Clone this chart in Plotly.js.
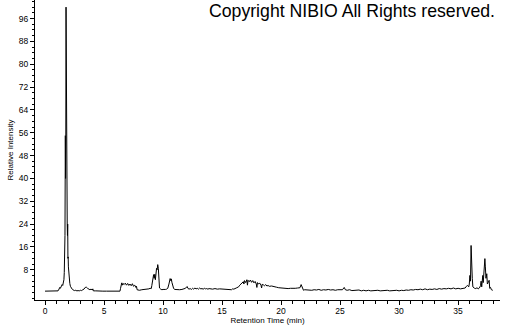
<!DOCTYPE html>
<html><head><meta charset="utf-8">
<script src="https://cdn.plot.ly/plotly-3.0.1.min.js"></script>
<style>html,body{margin:0;padding:0;background:#fff}#c{width:505px;height:325px}</style>
</head><body><div id="c"></div>
<script>
const retentionTime = [
 0,0.2,0.4,0.6,0.8,1.0,1.1,1.15,1.2,1.25,1.3,1.35,1.4,1.45,1.5,1.55,1.6,1.63,1.66,1.69,1.72,1.74,1.76,1.78,1.80,1.82,1.84,1.86,1.88,1.90,1.92,1.94,1.96,1.98,2.0,2.05,2.1,2.15,2.2,2.25,2.3,2.35,2.4,2.5,2.6,2.7,2.8,2.9,3.0,3.1,3.2,3.3,3.4,3.5,3.6,3.7,3.8,3.9,4.0,4.05,4.1,4.3,4.5,4.7,4.9,5.2,5.5,5.8,6.1,6.35,
 6.4,6.45,6.5,6.55,6.6,6.7,6.8,6.9,7.0,7.1,7.2,7.3,7.4,7.5,7.6,7.7,7.75,7.8,7.9,8.0,8.2,8.4,8.6,8.8,8.9,9.0,9.05,9.1,9.15,9.2,9.25,9.3,9.35,9.4,9.45,9.5,9.55,9.6,9.65,9.7,9.8,9.9,10.0,10.1,10.2,10.3,10.4,10.5,10.55,10.6,10.65,10.7,10.75,10.8,10.9,11.0,11.2,11.4,11.6,11.8,11.9,12.0,12.05,12.1,12.2,12.3,12.4,12.5,12.6,12.7,12.8,12.9,13.0,13.1,13.2,13.3,13.4,13.5,13.6,13.7,13.8,13.9,14.0,14.2,14.4,14.6,14.8,15.0,15.2,15.4,15.6,15.8,15.9,16.0,16.2,16.4,16.5,16.6,16.7,16.8,16.85,16.9,17.0,17.1,17.15,17.2,17.3,17.4,17.5,17.6,17.7,17.8,17.9,17.95,18.0,18.1,18.2,18.3,18.35,18.4,18.5,18.6,18.7,18.8,18.9,19.0,19.2,19.4,19.6,19.8,20.0,20.2,20.4,20.6,20.8,21.0,21.2,21.4,21.6,21.7,21.75,21.8,21.9,22.0,22.2,22.4,22.6,22.8,23.0,23.2,23.4,23.6,23.8,24.0,24.2,24.4,24.6,24.8,25.0,25.2,25.35,25.45,25.6,25.8,26.0,26.2,26.4,26.6,26.8,27.0,27.2,27.4,27.6,27.8,28.0,28.2,28.4,28.6,28.8,29.0,29.2,29.4,29.6,29.8,30.0,30.2,30.4,30.6,30.8,31.0,31.2,31.4,31.6,31.8,32.0,32.2,32.4,32.6,32.8,33.0,33.2,33.4,33.6,33.8,34.0,34.2,34.4,34.6,34.8,35.0,35.2,35.4,35.6,35.7,35.8,35.9,35.95,36.0,36.05,36.1,36.13,36.16,36.2,36.25,36.3,36.4,36.5,36.6,36.7,36.8,36.9,36.95,37.0,37.05,37.09,37.13,37.2,37.27,37.31,37.36,37.43,37.48,37.55,37.63,37.68,37.75,37.82,37.94
];
const relativeIntensity = [
 0.5,0.5,0.5,0.5,0.5,0.5,0.6,0.9,1.4,1.8,1.5,2.2,2.0,2.8,2.5,3.6,4.5,7,12.5,20,55,40,55,100,62,78,77,50,24,20,24,12,12.5,9,7,5,3.2,2.2,1.6,1.4,1.2,1.0,0.9,0.7,0.8,0.6,0.7,0.6,0.8,0.7,1.0,1.2,1.8,1.9,1.5,1.2,1.0,1.2,0.9,1.3,0.6,0.6,0.5,0.6,0.5,0.5,0.5,0.5,0.5,0.5,
 1.5,3.0,3.4,2.6,3.2,2.8,3.3,2.6,3.2,2.5,3.0,2.4,3.1,2.2,2.6,1.8,2.2,1.0,0.9,0.8,1.0,1.1,1.0,1.3,1.5,1.4,2.5,4.5,5.5,6.3,5.0,6.4,4.5,7.5,8.5,8.0,9.8,8.5,3.0,1.6,1.2,1.0,1.1,1.0,1.1,1.2,1.5,3.0,4.0,4.9,4.2,4.8,3.6,2.4,1.4,1.1,1.0,1.0,1.1,1.2,1.5,2.0,2.1,1.5,1.2,1.4,1.1,1.5,1.2,1.6,1.3,1.5,1.2,1.6,1.3,1.4,1.2,1.5,1.3,1.4,1.2,1.4,1.3,1.2,1.4,1.2,1.3,1.2,1.1,1.0,1.1,1.0,1.3,1.2,1.6,2.0,2.6,3.0,3.4,3.8,3.0,4.2,3.5,4.5,2.6,4.3,3.8,4.4,3.6,4.2,3.4,3.9,3.0,1.8,3.5,3.0,3.3,2.6,1.6,2.9,2.7,2.4,2.8,2.3,2.5,2.2,2.3,2.0,1.9,1.7,1.6,1.5,1.6,1.4,1.5,1.4,1.5,1.6,1.7,2.8,2.2,1.2,0.8,1.0,0.9,1.0,0.8,1.0,0.9,1.1,0.8,1.0,0.9,1.1,0.9,1.0,0.8,1.0,0.9,1.0,1.8,1.0,0.8,1.0,0.7,0.8,0.7,0.9,0.6,0.8,0.6,0.8,0.6,0.7,0.6,0.8,0.6,0.7,0.6,0.8,0.6,0.7,0.6,0.8,0.6,0.8,0.7,0.9,0.8,1.0,0.9,1.1,1.0,1.2,1.0,1.3,1.0,1.2,1.1,1.3,1.1,1.4,1.2,1.4,1.3,1.5,1.3,1.6,1.3,1.5,1.3,1.4,1.6,2.2,2.5,2.0,3.0,6,4,16.5,10,14,5,2.0,1.8,1.5,1.4,1.7,1.3,1.6,2.4,4,2.0,4.0,6,3.5,8,11.9,9,5,6.6,3,3.5,4.3,1.5,1.8,1.0,0.8
];
const yTickValues = [8,16,24,32,40,48,56,64,72,80,88,96];
const xTickValues = [0,5,10,15,20,25,30,35];

const fam = '"Liberation Sans", Arial, sans-serif';
const tickFont = {family:fam, size:8.5, color:'#000'};
Plotly.newPlot('c', [{
  x: retentionTime, y: relativeIntensity, type:'scatter', mode:'lines',
  line:{color:'#000', width:1}, hoverinfo:'skip'
}], {
  width:505, height:325,
  margin:{l:35, r:5, t:0, b:25, pad:0},
  paper_bgcolor:'#fff', plot_bgcolor:'#fff',
  showlegend:false,
  title:{text:'Copyright NIBIO All Rights reserved.', x:495/505, xanchor:'right', xref:'container', y:0.985, yanchor:'top', yref:'container',
    font:{family:fam, size:17.7, color:'#000'}},
  xaxis:{range:[-0.85,38.55], tickmode:'array', tickvals:xTickValues, ticks:'outside', ticklen:4, tickcolor:'#000', tickwidth:1,
    ticklabelstandoff:-1,
    minor:{dtick:1, tick0:0, ticks:'outside', ticklen:3, tickcolor:'#000', showgrid:false},
    showline:true, linecolor:'#000', linewidth:1, showgrid:false, zeroline:false, tickfont:tickFont,
    title:{text:'Retention Time (min)', font:{family:fam, size:8, color:'#000'}, standoff:0}},
  yaxis:{range:[-2.6,102.5], tickmode:'array', tickvals:yTickValues, ticks:'outside', ticklen:4, tickcolor:'#000', tickwidth:1,
    minor:{dtick:2, tick0:0, ticks:'outside', ticklen:2, tickcolor:'#000', showgrid:false},
    showline:true, linecolor:'#000', linewidth:1, showgrid:false, zeroline:false, tickfont:tickFont,
    title:{text:'Relative Intensity', font:{family:fam, size:8, color:'#000'}, standoff:4}}
}, {staticPlot:true, displayModeBar:false});
</script></body></html>
